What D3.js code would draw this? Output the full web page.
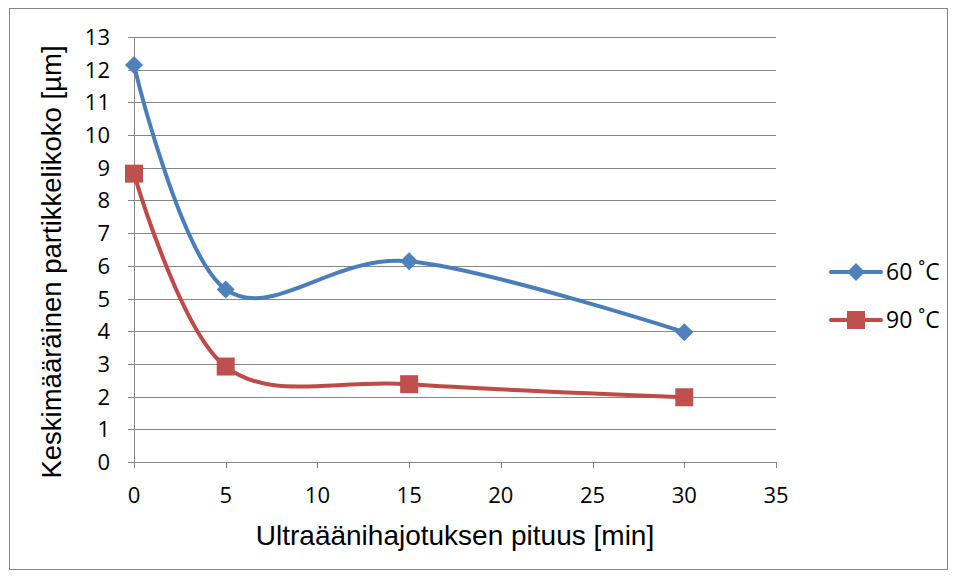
<!DOCTYPE html>
<html><head><meta charset="utf-8">
<script src="https://cdn.jsdelivr.net/npm/d3@7"></script>
<style>body{margin:0;background:#fff}svg{display:block}</style>
</head><body>
<svg id="c" width="957" height="578"></svg>
<script>
const xValues = [0, 5, 15, 30];
const series60 = [12.14, 5.28, 6.14, 3.97];
const series90 = [8.82, 2.92, 2.38, 1.98];
const seriesNames = ["60 ˚C", "90 ˚C"];
const xTicks = [0,5,10,15,20,25,30,35];
const yTicks = d3.range(0,14);

const svg = d3.select("#c");
const tickFont = "'Open Sans', 'Liberation Sans', Arial, sans-serif";
const titleFont = "'Liberation Sans', Arial, sans-serif";
svg.append("rect").attr("x",9.5).attr("y",8.5).attr("width",938).attr("height",561)
  .attr("fill","#fff").attr("stroke","#868686");

const x = d3.scaleLinear().domain([0,35]).range([134,776]);
const y = d3.scaleLinear().domain([0,13]).range([462,37]);
const g = svg.append("g");
g.selectAll(".gy").data(yTicks).join("line")
  .attr("x1",128).attr("x2",776).attr("y1",d=>Math.round(y(d))+0.5).attr("y2",d=>Math.round(y(d))+0.5)
  .attr("stroke","#868686").attr("stroke-width",1);
g.append("line").attr("x1",134.5).attr("x2",134.5).attr("y1",y(13)).attr("y2",y(0)+0.5).attr("stroke","#868686");
g.selectAll(".tx").data(xTicks).join("line")
  .attr("x1",d=>Math.round(x(d))+0.5).attr("x2",d=>Math.round(x(d))+0.5)
  .attr("y1",y(0)).attr("y2",y(0)+6).attr("stroke","#868686");
g.selectAll(".lx").data(xTicks).join("text")
  .attr("x",d=>x(d)).attr("y",y(0)+41).attr("text-anchor","middle")
  .attr("font-family",tickFont).attr("font-size",22).attr("fill","#000").text(d=>d);
g.selectAll(".ly").data(yTicks).join("text")
  .attr("x",110).attr("y",d=>y(d)+8).attr("text-anchor","end")
  .attr("font-family",tickFont).attr("font-size",22).attr("fill","#000").text(d=>d);
svg.append("text").attr("x",455).attr("y",545).attr("text-anchor","middle")
  .attr("font-family",titleFont).attr("font-size",28).text("Ultraäänihajotuksen pituus [min]");
svg.append("text").attr("transform","translate(61,262) rotate(-90)").attr("text-anchor","middle")
  .attr("font-family",titleFont).attr("font-size",27.5).text("Keskimääräinen partikkelikoko [µm]");

const colors = ["#4A7EBB","#BE4B48"];
const data = [series60, series90];
const line = d3.line().x(d=>x(d[0])).y(d=>y(d[1])).curve(d3.curveCardinal.tension(0));
function marker(sel, i, cx, cy){
  if(i===0) sel.append("path").attr("d",`M${cx},${cy-9}L${cx+9},${cy}L${cx},${cy+9}L${cx-9},${cy}Z`).attr("fill","#4F81BD");
  else sel.append("rect").attr("x",cx-9).attr("y",cy-9).attr("width",18).attr("height",18).attr("fill","#C0504D");
}
data.forEach((s,i)=>{
  const pts = xValues.map((v,j)=>[v,s[j]]);
  g.append("path").attr("d",line(pts)).attr("fill","none").attr("stroke",colors[i])
    .attr("stroke-width",4).attr("stroke-linecap","round").attr("stroke-linejoin","round");
  pts.forEach(p=>marker(g,i,x(p[0]),y(p[1])));
});
const ly=[272,320];
seriesNames.forEach((n,i)=>{
  svg.append("line").attr("x1",831).attr("x2",881).attr("y1",ly[i]).attr("y2",ly[i])
    .attr("stroke",colors[i]).attr("stroke-width",4).attr("stroke-linecap","round");
  marker(svg,i,856,ly[i]);
  svg.append("text").attr("x",886).attr("y",ly[i]+8).attr("font-family",tickFont).attr("font-size",23).text(n);
});
</script>
</body></html>
